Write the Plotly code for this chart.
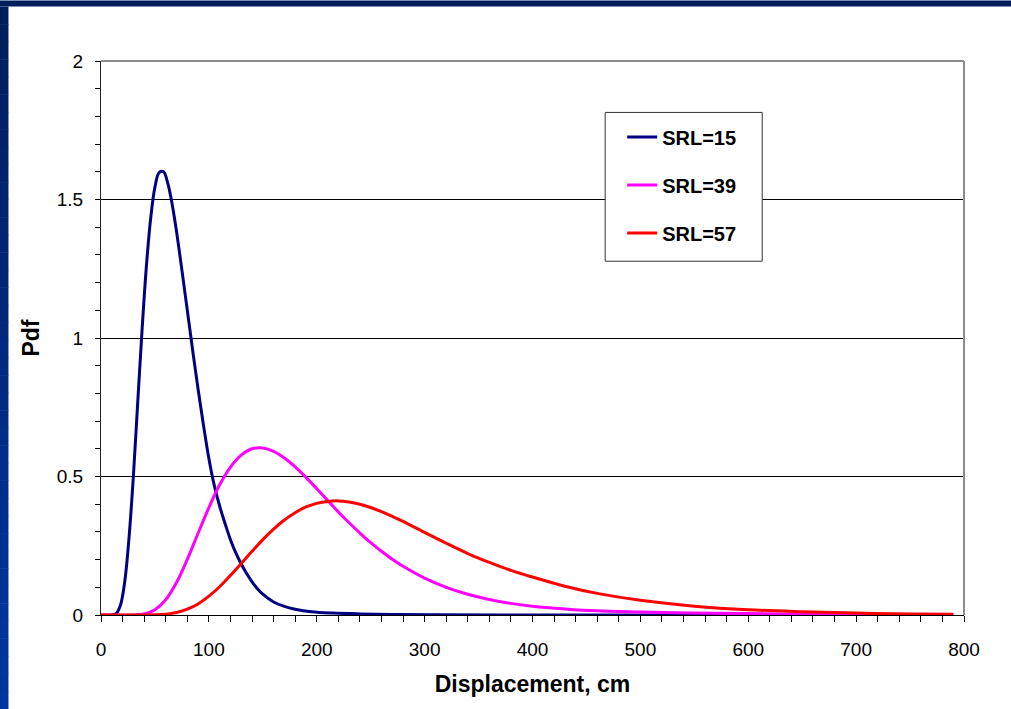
import plotly.graph_objects as go

# ---------------- data ----------------
srl15_x = [0, 10, 14, 18, 22, 26, 30, 34, 38, 42, 46, 50, 54, 58, 62, 66, 70, 75, 80, 85, 90,
           95, 100, 105, 110, 115, 120, 125, 130, 135, 140, 145, 150, 160, 170, 180, 195, 215,
           240, 270, 310, 400, 500, 600, 700, 790]
srl15_y = [0, 0.0002, 0.005, 0.035, 0.12, 0.28, 0.50, 0.765, 1.025, 1.255, 1.43, 1.545, 1.598,
           1.6, 1.557, 1.482, 1.385, 1.245, 1.1, 0.955, 0.815, 0.685, 0.565, 0.468, 0.393, 0.33,
           0.272, 0.224, 0.184, 0.15, 0.12, 0.095, 0.075, 0.047, 0.031, 0.021, 0.012, 0.007,
           0.004, 0.002, 0.001, 0, 0, 0, 0, 0]

srl39_x = [0, 30, 40, 50, 60, 70, 80, 90, 100, 110, 120, 130, 140, 150, 160, 170, 180, 190,
           200, 210, 220, 230, 240, 250, 260, 270, 280, 300, 320, 340, 360, 380, 400, 430, 460,
           500, 550, 600, 700, 790]
srl39_y = [0, 0.0003, 0.004, 0.019, 0.055, 0.117, 0.201, 0.295, 0.388, 0.47, 0.534, 0.577,
           0.6, 0.603, 0.591, 0.567, 0.535, 0.497, 0.456, 0.414, 0.372, 0.333, 0.296, 0.261,
           0.23, 0.201, 0.176, 0.133, 0.1, 0.075, 0.056, 0.042, 0.032, 0.022, 0.015, 0.011,
           0.007, 0.005, 0.002, 0.001]

srl57_x = [0, 40, 50, 60, 70, 80, 90, 100, 110, 120, 130, 140, 150, 160, 170, 180, 190, 200,
           210, 220, 230, 240, 250, 260, 270, 280, 300, 320, 340, 360, 380, 400, 430, 460, 500,
           550, 600, 650, 700, 750, 790]
srl57_y = [0, 0.0001, 0.0007, 0.003, 0.009, 0.021, 0.04, 0.068, 0.102, 0.143, 0.186, 0.23,
           0.272, 0.31, 0.343, 0.369, 0.39, 0.403, 0.41, 0.412, 0.408, 0.4, 0.388, 0.373,
           0.356, 0.338, 0.298, 0.259, 0.222, 0.19, 0.161, 0.137, 0.104, 0.078, 0.053, 0.032,
           0.019, 0.012, 0.007, 0.004, 0.003]

series_names = ["SRL=15", "SRL=39", "SRL=57"]
series_colors = ["#000080", "#FF00FF", "#FF0000"]

x_tick_vals = [0, 100, 200, 300, 400, 500, 600, 700, 800]
y_tick_vals = [0, 0.5, 1, 1.5, 2]
y_tick_text = ["0", "0.5", "1", "1.5", "2"]

# ---------------- figure ----------------
W, H = 1011, 709
L, R, T, B = 101, 963.7, 60.5, 615.3   # plot-area pixel edges
FONT = "Liberation Sans, Arial, sans-serif"

fig = go.Figure()
for i, (xs, ys) in enumerate([(srl15_x, srl15_y), (srl39_x, srl39_y), (srl57_x, srl57_y)]):
    fig.add_trace(go.Scatter(
        x=xs, y=ys, mode="lines", name=series_names[i], legendgroup=f"g{i}",
        line=dict(color=series_colors[i], width=3, shape="spline", smoothing=1),
    ))

def px_x(p):
    return (p - L) / (R - L)

def px_y(p):
    return (B - p) / (B - T)

shapes = []
# top dark band
shapes.append(dict(type="rect", xref="paper", yref="paper", x0=px_x(0), x1=px_x(W),
                   y0=px_y(6), y1=px_y(0), fillcolor="#001E5C", line=dict(width=0), layer="above"))
# left gradient band
n = 40
c0 = (0x00, 0x1E, 0x5C)
c1 = (0x00, 0x36, 0xA0)
for k in range(n):
    t = k / (n - 1)
    col = "rgb(%d,%d,%d)" % tuple(round(c0[j] + (c1[j] - c0[j]) * t) for j in range(3))
    y_top = 6 + (H - 6) * k / n
    y_bot = 6 + (H - 6) * (k + 1) / n + 0.5
    shapes.append(dict(type="rect", xref="paper", yref="paper", x0=px_x(0), x1=px_x(8.5),
                       y0=px_y(y_bot), y1=px_y(y_top), fillcolor=col, line=dict(width=0),
                       layer="above"))
# gray top & right frame of plot area
shapes.append(dict(type="line", xref="paper", yref="paper", x0=0, x1=1, y0=1, y1=1,
                   line=dict(color="#8C8C8C", width=2)))
shapes.append(dict(type="line", xref="paper", yref="paper", x0=1, x1=1, y0=0, y1=1,
                   line=dict(color="#8C8C8C", width=2)))
# legend box
shapes.append(dict(type="rect", xref="paper", yref="paper", x0=px_x(605), x1=px_x(762),
                   y0=px_y(261), y1=px_y(112), fillcolor="white",
                   line=dict(color="#333333", width=1), layer="above"))

fig.update_layout(
    width=W, height=H,
    margin=dict(l=L, r=W - R, t=T, b=H - B, pad=0),
    paper_bgcolor="white", plot_bgcolor="white",
    font=dict(family=FONT, size=19, color="black"),
    showlegend=True,
    legend=dict(
        x=px_x(622), y=px_y(117), xanchor="left", yanchor="top",
        bgcolor="rgba(0,0,0,0)", borderwidth=0,
        font=dict(size=20, color="black", family=FONT, weight="bold"),
        tracegroupgap=19, itemwidth=30,
    ),
    shapes=shapes,
    xaxis=dict(
        range=[0, 800], tickvals=x_tick_vals, ticks="outside", ticklen=6, tickwidth=1,
        tickcolor="black", showline=True, linecolor="black", linewidth=1,
        showgrid=False, zeroline=False, ticklabelstandoff=11,
        minor=dict(dtick=20, ticks="outside", ticklen=6, tickcolor="black", showgrid=False),
        title=dict(text="<b>Displacement, cm</b>", font=dict(size=23), standoff=17),
        fixedrange=True,
    ),
    yaxis=dict(
        range=[0, 2], tickvals=y_tick_vals, ticktext=y_tick_text, ticks="outside", ticklen=5,
        tickwidth=1, tickcolor="black", showline=True, linecolor="#222222", linewidth=1,
        showgrid=True, gridcolor="black", gridwidth=1, zeroline=False, ticklabelstandoff=8,
        minor=dict(dtick=0.1, ticks="outside", ticklen=5, tickcolor="black", showgrid=False),
        title=dict(text="<b>Pdf</b>", font=dict(size=23), standoff=10),
        fixedrange=True,
    ),
)

fig.write_html("out.html")
